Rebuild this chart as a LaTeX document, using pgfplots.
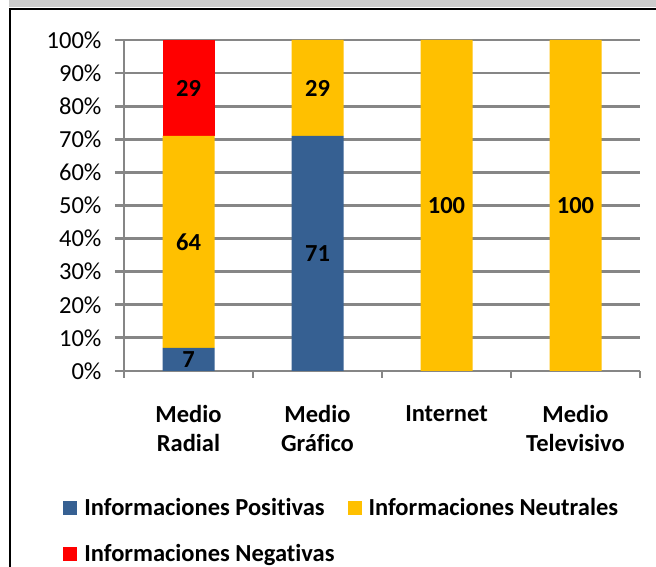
\documentclass[border=0pt]{standalone}
\usepackage{pgfplots}
\pgfplotsset{compat=1.18}
\usepackage{fontspec}
\setmainfont{Carlito}[Ligatures={NoCommon}]
\definecolor{cblue}{HTML}{366092}
\definecolor{cyellow}{HTML}{FFC000}
\definecolor{cred}{HTML}{FF0000}
\definecolor{cgrid}{HTML}{868686}
\definecolor{cband}{HTML}{CCCCCC}
\newcommand\lblfont{\fontsize{24.5bp}{29bp}\selectfont\bfseries}
\newcommand\tickfont{\fontsize{24.5bp}{28bp}\selectfont}
\begin{document}
\begin{tikzpicture}
\useasboundingbox (0,0) rectangle (656bp,567bp);
\fill[white] (0,0) rectangle (656bp,567bp);
\fill[cband] (9bp,560bp) rectangle (656bp,567bp);
\draw[black, line width=2bp] (10bp,0) -- (10bp,557.5bp) -- (656bp,557.5bp);
\pgfplotsset{mybase/.style={
  scale only axis, width=516bp, height=331bp,
  at={(124bp,196bp)}, anchor=south west,
  xmin=-0.5, xmax=3.5, ymin=0, ymax=100,
}}
\begin{axis}[mybase,
  ybar stacked, bar width=52bp,
  axis lines*=left, axis line style={cgrid, line width=2.8bp, -},
  ymajorgrids, grid style={cgrid, line width=2.8bp},
  ytick={0,10,...,100},
  yticklabel={\pgfmathprintnumber{\tick}\%},
  /pgf/number format/assume math mode=true,
  tick align=outside, major tick length=9bp,
  ytick style={cgrid, line width=2.8bp},
  yticklabel style={font=\tickfont, xshift=-10bp},
  xtick={0,1,2,3},
  xtick style={draw=none},
  xticklabels={{Medio\\Radial},{Medio\\Gráfico},{Internet},{Medio\\Televisivo}},
  xticklabel style={font=\lblfont, align=center, anchor=north, yshift=-22bp},
  extra x ticks={-0.5,0.5,1.5,2.5,3.5},
  extra x tick labels={},
  extra x tick style={grid=none, major tick length=7bp, xtick style={draw=cgrid, line width=2.8bp}},
  legend image code/.code={\fill[#1] (0bp,-7bp) rectangle (14bp,7bp);},
  legend columns=2,
  legend cell align=left,
  legend style={at={(-0.118,-0.385)}, anchor=north west, draw=none, fill=none, inner sep=0pt,
    font=\lblfont, column sep=7bp, row sep=27bp, nodes={inner sep=0pt},
    /tikz/every even column/.append style={column sep=13bp}},
]
\addplot[fill=cblue, draw=none] coordinates {(0,7) (1,71) (2,0) (3,0)};
\addplot[fill=cyellow, draw=none] coordinates {(0,64) (1,29) (2,100) (3,100)};
\addplot[fill=cred, draw=none] coordinates {(0,29) (1,0) (2,0) (3,0)};
\legend{Informaciones Positivas, Informaciones Neutrales, Informaciones Negativas}
\end{axis}
\begin{axis}[mybase, hide axis, clip=false]
\addplot[only marks, mark=none, nodes near coords, point meta=explicit symbolic,
  every node near coord/.style={font=\lblfont, anchor=center, inner sep=0pt}]
  coordinates {(0,3.5)[7] (0,39)[64] (0,85.5)[29] (1,35.5)[71] (1,85.5)[29] (2,50)[100] (3,50)[100]};
\end{axis}
\end{tikzpicture}
\end{document}
